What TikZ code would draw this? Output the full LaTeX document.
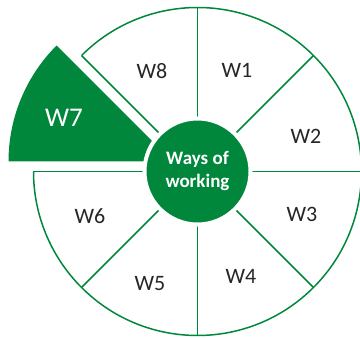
\documentclass[tikz,border=0pt]{standalone}
\usepackage{fontspec}
\setmainfont{Carlito}
\definecolor{wgreen}{RGB}{0,135,60}
\tikzset{
  seg/.style={draw=wgreen, line width=1.5pt},
  lbl/.style={font=\fontsize{22}{26}\selectfont, text=black!85, inner sep=0pt},
}
\begin{document}
\begin{tikzpicture}[x=1pt,y=1pt]
\useasboundingbox (0,0) rectangle (360,338);
\coordinate (c) at (197.5,166.5);
\coordinate (apex) at (172.5,176.5);
\begin{scope}[shift={(c)}]
  \draw[seg] (135:164) arc[start angle=135, end angle=-180, radius=164];
  \foreach \a in {135,90,45,0,-45,-90,-135,180}
    \draw[seg] (\a:45) -- (\a:164);
\end{scope}
\begin{scope}[shift={(apex)}]
  \fill[wgreen] (0,0) -- (135:164) arc[start angle=135, end angle=180, radius=164] -- cycle;
\end{scope}
\node[circle, fill=wgreen, draw=white, line width=4pt, minimum size=106pt, inner sep=0pt,
      text=white, font=\bfseries\fontsize{19}{23}\selectfont, align=center] (ways) at (c) {Ways of\\working};
\node[lbl] (w1) at (237,268) {W1};
\node[lbl] (w2) at (306,202) {W2};
\node[lbl] (w3) at (302,124) {W3};
\node[lbl] (w4) at (241,62) {W4};
\node[lbl] (w5) at (150,54) {W5};
\node[lbl] (w6) at (90,122) {W6};
\node[lbl, text=white, font=\fontsize{27}{30}\selectfont] (w7) at (64,220) {W7};
\node[lbl] (w8) at (152,267) {W8};
\end{tikzpicture}
\end{document}
